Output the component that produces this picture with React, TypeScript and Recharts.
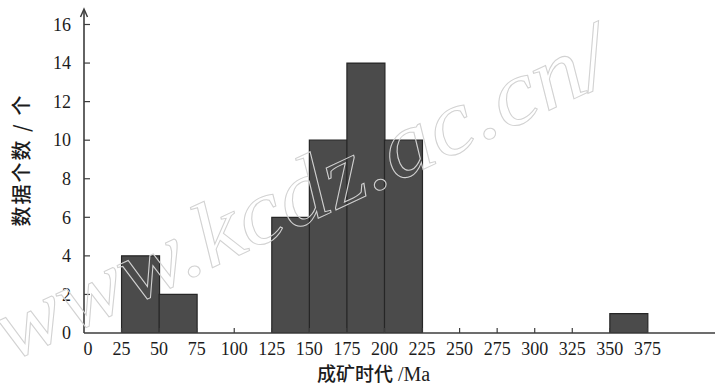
import { BarChart, Bar, XAxis, YAxis, ReferenceDot } from 'recharts';

// histogram bins (Ma), width 25
const binStarts = [0, 25, 50, 75, 100, 125, 150, 175, 200, 225, 250, 275, 300, 325, 350, 375];
const counts = [0, 4, 2, 0, 0, 6, 10, 14, 10, 0, 0, 0, 0, 0, 1, 0];
const binWidth = 25;
const xTicks = [0, 25, 50, 75, 100, 125, 150, 175, 200, 225, 250, 275, 300, 325, 350, 375];
const yTicks = [0, 2, 4, 6, 8, 10, 12, 14, 16];
const xDomain = [0, 420];
const yDomain = [0, 16.7];

const W = 717;
const H = 387;
const margin = { top: 11, right: 2, bottom: 0, left: 0 };
const Y_AXIS_W = 84;
const X_AXIS_H = 54;

const AXIS = '#3d3d3d';
const TEXT = '#1c1c1c';
const SERIF = '"Liberation Serif", "DejaVu Serif", serif';
const CJK = '"Noto Sans CJK SC", sans-serif';

const data = binStarts.map((s, i) => ({ mid: s + binWidth / 2, count: counts[i] }));

const XTick = (props: any) => {
  const { x, y, payload } = props;
  return (
    <g>
      {payload.value !== 0 && (
        <line x1={x} x2={x} y1={y} y2={y - 5} stroke={AXIS} strokeWidth={1.2} />
      )}
      <text
        x={x + (payload.value === 0 ? 4 : 0)}
        y={y + 22}
        textAnchor="middle"
        fontFamily={SERIF}
        fontSize={18}
        fill={TEXT}
      >
        {payload.value}
      </text>
    </g>
  );
};

const YTick = (props: any) => {
  const { x, y, payload } = props;
  return (
    <g>
      {payload.value !== 0 && (
        <line x1={x} x2={x + 6} y1={y} y2={y} stroke={AXIS} strokeWidth={1.2} />
      )}
      <text
        x={x - 13}
        y={y}
        dy="0.35em"
        textAnchor="end"
        fontFamily={SERIF}
        fontSize={18}
        fill={TEXT}
      >
        {payload.value}
      </text>
    </g>
  );
};

const XLabel = (props: any) => {
  const { viewBox } = props;
  const cx = viewBox.x + viewBox.width / 2 - 26;
  return (
    <text x={cx} y={viewBox.y + 48} textAnchor="middle" fontSize={19} fill={TEXT}>
      <tspan fontFamily={CJK} fontWeight={500}>成矿时代</tspan>
      <tspan fontFamily={SERIF} fontSize={20}> /Ma</tspan>
    </text>
  );
};

const YLabel = (props: any) => {
  const { viewBox } = props;
  const cx = viewBox.x + 20;
  const cy = 160;
  return (
    <text
      x={cx}
      y={cy}
      transform={`rotate(-90, ${cx}, ${cy})`}
      textAnchor="middle"
      dominantBaseline="central"
      fontFamily={CJK}
      fontSize={20}
      fontWeight={500}
      letterSpacing={2}
      fill={TEXT}
    >
      数据个数 / 个
    </text>
  );
};

const ArrowHead = (props: any) => {
  const { cx, cy } = props;
  return (
    <path
      d={`M${cx - 3.5},${cy + 6} L${cx},${cy - 2} L${cx + 3.5},${cy + 6}`}
      fill="none"
      stroke={AXIS}
      strokeWidth={1.5}
    />
  );
};

export default function App() {
  return (
    <div style={{ position: 'relative', width: W, height: H, background: '#fff' }}>
      <style>{'body{margin:0}'}</style>
      <BarChart width={W} height={H} data={data} margin={margin} barCategoryGap={0} barGap={0}>
        <XAxis
          dataKey="mid"
          type="number"
          domain={xDomain}
          ticks={xTicks}
          interval={0}
          allowDataOverflow
          height={X_AXIS_H}
          tickSize={0}
          tickMargin={0}
          tickLine={false}
          axisLine={{ stroke: AXIS, strokeWidth: 1.6 }}
          tick={<XTick />}
          label={<XLabel />}
        />
        <YAxis
          type="number"
          domain={yDomain}
          ticks={yTicks}
          interval={0}
          allowDataOverflow
          width={Y_AXIS_W}
          tickSize={0}
          tickMargin={0}
          tickLine={false}
          axisLine={{ stroke: AXIS, strokeWidth: 1.6 }}
          tick={<YTick />}
          label={<YLabel />}
        />
        <Bar
          dataKey="count"
          fill="#4b4b4b"
          stroke="#262626"
          strokeWidth={1.2}
          isAnimationActive={false}
        />
        <ReferenceDot x={0} y={yDomain[1]} r={0} ifOverflow="visible" shape={<ArrowHead />} />
      </BarChart>
      <svg
        width={W}
        height={H}
        style={{ position: 'absolute', left: 0, top: 0, pointerEvents: 'none' }}
      >
        <text
          x={10}
          y={362}
          transform="rotate(-25, 10, 362)"
          fontFamily={SERIF}
          fontStyle="italic"
          fontSize={92}
          textLength={670}
          lengthAdjust="spacingAndGlyphs"
          fill="none"
          stroke="#d2d2d2"
          strokeWidth={1}
        >
          www.kcdz.ac.cn/
        </text>
      </svg>
    </div>
  );
}
